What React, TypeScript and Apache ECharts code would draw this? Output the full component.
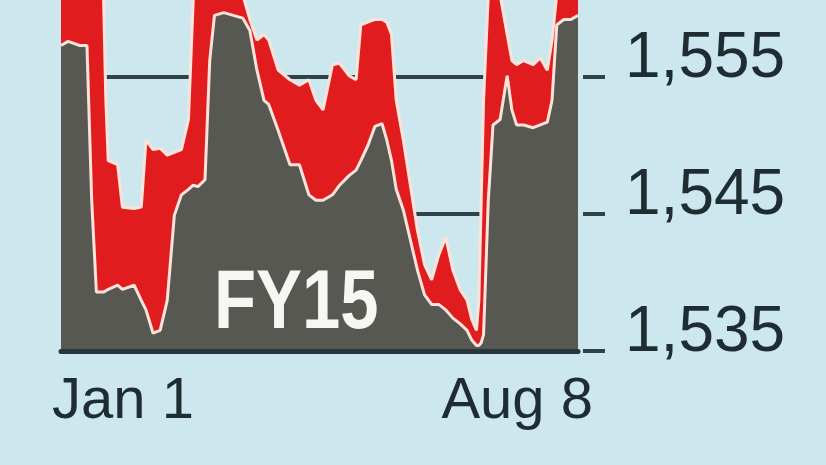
import React, { useEffect, useRef } from "react";
import * as echarts from "echarts";

// Day of year 2015 (0 = Jan 1, 219 = Aug 8)
const days = [0, 3, 8, 11, 13, 15, 18, 19, 20, 24, 26, 31, 34, 36, 39, 42, 45, 48, 51, 54, 56, 58, 61, 63, 65, 69, 73, 77, 80, 83, 86, 88, 92, 97, 101, 105, 108, 111, 115, 118, 122, 125, 127, 130, 133, 136, 138, 140, 142, 145, 148, 151, 154, 157, 160, 163, 166, 169, 172, 174, 176, 177, 178, 179, 181, 183, 186, 189, 191, 193, 196, 200, 203, 206, 208, 210, 213, 216, 219];

// lower envelope of the daily line (top of the grey area)
const lowValues = [1557.3, 1557.6, 1557.3, 1557.3, 1546.0, 1539.3, 1539.3, 1539.4, 1539.5, 1539.8, 1539.5, 1539.8, 1538.7, 1538.0, 1536.3, 1536.5, 1538.7, 1544.9, 1546.4, 1546.8, 1547.1, 1547.0, 1547.5, 1556.2, 1559.5, 1559.7, 1559.5, 1559.3, 1558.4, 1555.5, 1553.3, 1553.0, 1551.1, 1548.6, 1548.6, 1546.4, 1546.0, 1546.0, 1546.4, 1547.1, 1547.8, 1548.2, 1548.9, 1550.0, 1551.4, 1551.6, 1550.4, 1548.9, 1546.8, 1545.3, 1543.1, 1540.9, 1539.1, 1538.4, 1538.4, 1538.0, 1537.4, 1537.0, 1536.5, 1535.8, 1535.4, 1535.4, 1535.6, 1536.2, 1546.0, 1551.5, 1551.9, 1555.1, 1552.6, 1551.5, 1551.5, 1551.3, 1551.5, 1551.7, 1553.3, 1558.8, 1559.2, 1559.2, 1559.5];

// upper envelope of the daily line (top of the red band)
const highValues = [1562, 1562, 1562, 1562, 1562, 1562, 1561.0, 1553.3, 1548.9, 1548.6, 1545.5, 1545.4, 1545.5, 1550.4, 1549.7, 1549.8, 1549.3, 1549.5, 1549.7, 1551.9, 1560.6, 1562, 1562, 1562, 1562, 1562, 1562, 1561.0, 1559.2, 1557.7, 1558.1, 1557.7, 1555.5, 1554.8, 1554.4, 1554.8, 1553.3, 1552.6, 1555.9, 1556.0, 1555.1, 1554.8, 1558.8, 1559.0, 1559.2, 1559.2, 1559.0, 1558.1, 1553.3, 1550.4, 1547.1, 1543.8, 1541.3, 1540.2, 1542.0, 1543.3, 1540.9, 1539.5, 1538.7, 1537.3, 1536.5, 1538.7, 1546.0, 1553.3, 1561.0, 1562, 1561.0, 1558.1, 1556.2, 1555.9, 1556.2, 1555.9, 1556.4, 1555.5, 1557.7, 1561.0, 1562, 1562, 1562];

const xTickDays = [0, 219];
const xTickLabels = ["Jan 1", "Aug 8"];
const yTicks = [1535, 1545, 1555];
const yTickLabels = ["1,535", "1,545", "1,555"];
const yMax = 1561.35;
const annotation = "FY15";

const BG = "#cde7ef";
const GREY = "#575852";
const RED = "#e01c1f";
const EDGE = "#fbe3da";
const INK = "#1f2c32";
const RULE = "#2f4249";
const FONT = "'Liberation Sans', Arial, sans-serif";

export default function App() {
  const ref = useRef<HTMLDivElement>(null);
  useEffect(() => {
    if (!ref.current) return;
    const chart = echarts.init(ref.current, null, { renderer: "svg" });
    const highData = days.map((d, i) => [d, highValues[i]]);
    const lowData = days.map((d, i) => [d, lowValues[i]]);
    const yLabelFormatter = (v: number) => {
      const i = yTicks.indexOf(Math.round(v * 100) / 100);
      return i >= 0 ? yTickLabels[i] : "";
    };
    chart.setOption({
      animation: false,
      backgroundColor: BG,
      grid: [
        { left: 61, right: 248, top: -10, bottom: 114, containLabel: false, outerBoundsMode: "none" },
        // narrow strip right of the plot: its split lines act as the outward tick marks
        { left: 583, right: 221, top: -10, bottom: 114, containLabel: false, outerBoundsMode: "none" },
      ],
      xAxis: [
        {
          type: "value",
          gridIndex: 0,
          min: xTickDays[0],
          max: xTickDays[1],
          interval: xTickDays[1] - xTickDays[0],
          z: 5,
          axisLine: { show: true, lineStyle: { color: "#28353a", width: 5 } },
          axisTick: { show: false },
          splitLine: { show: false },
          axisLabel: {
            color: INK,
            fontSize: 58,
            fontFamily: FONT,
            lineHeight: 58,
            margin: 17,
            alignMinLabel: "left",
            alignMaxLabel: "right",
            padding: [0, -15, 0, -9],
            formatter: (v: number) => {
              const i = xTickDays.indexOf(Math.round(v));
              return i >= 0 ? xTickLabels[i] : "";
            },
          },
        },
        { type: "value", gridIndex: 1, min: 0, max: 1, show: false },
      ],
      yAxis: [
        {
          type: "value",
          gridIndex: 0,
          position: "right",
          min: yTicks[0],
          max: yMax,
          interval: 10,
          axisLine: { show: false },
          axisTick: { show: false },
          splitLine: { show: true, lineStyle: { color: RULE, width: 4 } },
          axisLabel: {
            color: INK,
            fontSize: 64,
            fontFamily: FONT,
            lineHeight: 44,
            verticalAlign: "bottom",
            margin: 47,
            formatter: yLabelFormatter,
          },
        },
        {
          type: "value",
          gridIndex: 1,
          min: yTicks[0],
          max: yMax,
          interval: 10,
          axisLine: { show: false },
          axisTick: { show: false },
          axisLabel: { show: false },
          splitLine: { show: true, lineStyle: { color: RULE, width: 4 } },
        },
      ],
      series: [
        {
          name: "high",
          type: "line",
          xAxisIndex: 0,
          yAxisIndex: 0,
          data: highData,
          symbol: "none",
          smooth: false,
          lineStyle: { color: EDGE, width: 3 },
          areaStyle: { color: RED, opacity: 1 },
          z: 2,
        },
        {
          name: "low",
          type: "line",
          xAxisIndex: 0,
          yAxisIndex: 0,
          data: lowData,
          symbol: "none",
          smooth: false,
          lineStyle: { color: EDGE, width: 3 },
          areaStyle: { color: GREY, opacity: 1 },
          z: 3,
        },
      ],
      graphic: [
        {
          type: "text",
          x: 214,
          y: 298,
          scaleX: 0.82,
          z: 10,
          style: {
            text: annotation,
            fontSize: 84,
            fontWeight: "bold",
            fontFamily: FONT,
            fill: "#f6f6f2",
            align: "left",
            verticalAlign: "middle",
          },
        },
      ],
    });
    return () => chart.dispose();
  }, []);
  return (
    <div
      ref={ref}
      style={{ position: "fixed", left: 0, top: 0, width: 826, height: 465, background: BG }}
    />
  );
}
